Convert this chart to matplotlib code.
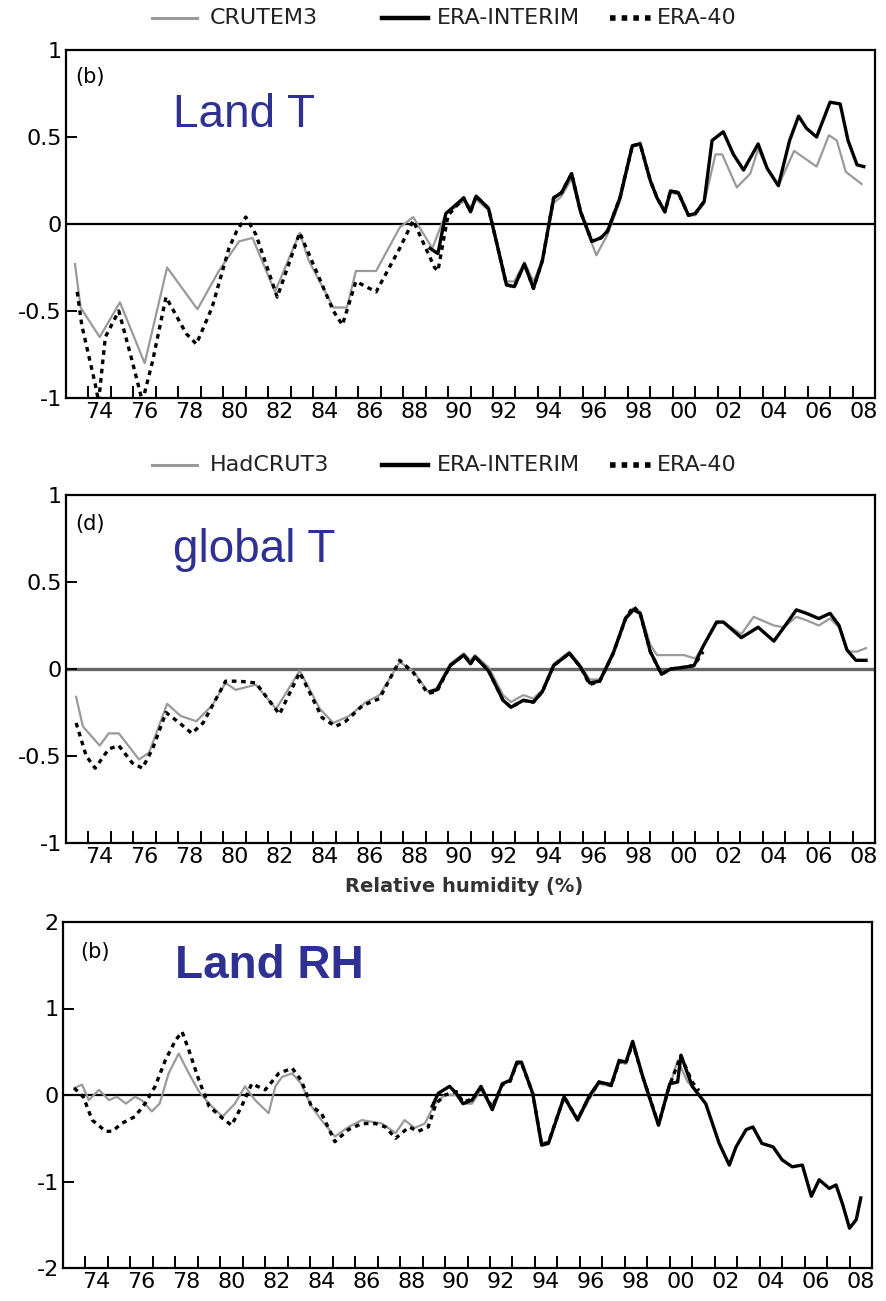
import matplotlib
matplotlib.use('Agg')
import matplotlib.pyplot as plt
from matplotlib.lines import Line2D

# ---- data (year, anomaly) ----
# panel (b) Land T
land_t_crutem_yr = [1973.4, 1973.65, 1974.5, 1975.4, 1976.5, 1977.5, 1978.85, 1979.8, 1980.7, 1981.3,
                    1982.3, 1983.4, 1983.8, 1984.9, 1985.5, 1985.9, 1986.8, 1987.85, 1988.45, 1989.3,
                    1989.9, 1990.7, 1991.0, 1991.25, 1991.8, 1992.15, 1992.6, 1992.95, 1993.4, 1993.8,
                    1994.2, 1994.7, 1995.05, 1995.5, 1995.9, 1996.6, 1997.1, 1997.65, 1998.2, 1998.55,
                    1999.0, 1999.3, 1999.65, 1999.9, 2000.25, 2000.7, 2001.0, 2001.4, 2001.9, 2002.2,
                    2002.85, 2003.45, 2003.8, 2004.2, 2004.7, 2005.4, 2006.4, 2006.95, 2007.3, 2007.7,
                    2008.4]
land_t_crutem = [-0.23, -0.48, -0.65, -0.45, -0.80, -0.25, -0.49, -0.27, -0.10, -0.08,
                 -0.39, -0.05, -0.21, -0.48, -0.48, -0.27, -0.27, -0.02, 0.04, -0.14,
                 0.06, 0.13, 0.10, 0.14, 0.08, -0.10, -0.33, -0.33, -0.22, -0.33,
                 -0.21, 0.12, 0.16, 0.26, 0.06, -0.18, -0.06, 0.13, 0.44, 0.47,
                 0.25, 0.15, 0.08, 0.18, 0.17, 0.05, 0.05, 0.12, 0.40, 0.40,
                 0.21, 0.29, 0.43, 0.32, 0.22, 0.42, 0.33, 0.51, 0.48, 0.30,
                 0.23]

land_t_era40_yr = [1973.5, 1973.7, 1974.3, 1974.45, 1974.75, 1975.35, 1975.95, 1976.4, 1976.85, 1977.45,
                   1978.35, 1978.8, 1979.5, 1980.25, 1980.6, 1981.0, 1981.45, 1982.4, 1983.4, 1984.9,
                   1985.3, 1985.9, 1986.8, 1987.85, 1988.45, 1989.4, 1989.55, 1990.0, 1990.7, 1991.0,
                   1991.25, 1991.8, 1992.15, 1992.6, 1992.95, 1993.4, 1993.8, 1994.2, 1994.7, 1995.05,
                   1995.5, 1995.9, 1996.4, 1996.8, 1997.1, 1997.65, 1998.2, 1998.55, 1999.0, 1999.3,
                   1999.65, 1999.9, 2000.25, 2000.7, 2001.0, 2001.4]
land_t_era40 = [-0.39, -0.58, -0.92, -1.02, -0.65, -0.50, -0.79, -1.02, -0.79, -0.42,
                -0.63, -0.69, -0.48, -0.14, -0.04, 0.04, -0.06, -0.42, -0.05, -0.50,
                -0.58, -0.33, -0.39, -0.14, 0.02, -0.25, -0.27, 0.05, 0.15, 0.07,
                0.16, 0.09, -0.10, -0.35, -0.36, -0.23, -0.37, -0.21, 0.15, 0.18,
                0.29, 0.07, -0.10, -0.08, -0.04, 0.15, 0.45, 0.46, 0.25, 0.15,
                0.07, 0.19, 0.18, 0.05, 0.06, 0.13]

land_t_erai_yr = [1989.2, 1989.55, 1989.9, 1990.7, 1991.0, 1991.25, 1991.8, 1992.15, 1992.6, 1992.95,
                  1993.4, 1993.8, 1994.2, 1994.7, 1995.05, 1995.5, 1995.9, 1996.4, 1996.8, 1997.1,
                  1997.65, 1998.2, 1998.55, 1999.0, 1999.3, 1999.65, 1999.9, 2000.25, 2000.7, 2001.0,
                  2001.4, 2001.75, 2002.25, 2002.7, 2003.15, 2003.8, 2004.2, 2004.7, 2005.2, 2005.6,
                  2005.95, 2006.4, 2007.0, 2007.45, 2007.8, 2008.2, 2008.5]
land_t_erai = [-0.14, -0.17, 0.06, 0.15, 0.07, 0.16, 0.09, -0.10, -0.35, -0.36,
               -0.23, -0.37, -0.21, 0.15, 0.18, 0.29, 0.07, -0.10, -0.08, -0.04,
               0.15, 0.45, 0.46, 0.25, 0.15, 0.07, 0.19, 0.18, 0.05, 0.06,
               0.13, 0.48, 0.53, 0.40, 0.31, 0.46, 0.32, 0.22, 0.48, 0.62,
               0.55, 0.50, 0.70, 0.69, 0.48, 0.34, 0.33]

# panel (d) global T
glob_t_hadcrut_yr = [1973.45, 1973.75, 1974.5, 1974.9, 1975.35, 1976.25, 1976.7, 1977.5, 1978.1, 1978.8,
                     1979.5, 1980.1, 1980.55, 1981.45, 1982.35, 1983.4, 1984.3, 1984.9, 1985.6, 1986.35,
                     1986.95, 1987.85, 1988.45, 1989.1, 1989.5, 1990.1, 1990.7, 1991.0, 1991.2, 1991.8,
                     1992.45, 1992.8, 1993.35, 1993.8, 1994.2, 1994.7, 1995.4, 1995.9, 1996.3, 1996.75,
                     1997.35, 1997.9, 1998.25, 1998.55, 1999.0, 1999.3, 1999.9, 2000.5, 2001.0, 2001.35,
                     2001.95, 2002.25, 2003.05, 2003.6, 2004.5, 2004.95, 2005.5, 2005.95, 2006.5, 2007.0,
                     2007.4, 2007.8, 2008.2, 2008.6]
glob_t_hadcrut = [-0.16, -0.33, -0.44, -0.37, -0.37, -0.52, -0.48, -0.20, -0.27, -0.30,
                  -0.21, -0.08, -0.12, -0.09, -0.23, -0.01, -0.23, -0.31, -0.27, -0.19,
                  -0.15, 0.04, -0.01, -0.13, -0.11, 0.03, 0.09, 0.05, 0.08, 0.01,
                  -0.15, -0.19, -0.15, -0.17, -0.12, 0.03, 0.10, 0.02, -0.06, -0.06,
                  0.10, 0.30, 0.35, 0.33, 0.14, 0.08, 0.08, 0.08, 0.06, 0.13,
                  0.26, 0.27, 0.20, 0.30, 0.25, 0.24, 0.30, 0.28, 0.25, 0.29,
                  0.24, 0.10, 0.10, 0.12]

glob_t_era40_yr = [1973.45, 1973.9, 1974.3, 1974.9, 1975.35, 1975.95, 1976.4, 1976.85, 1977.45, 1978.05,
                   1978.6, 1979.1, 1980.1, 1980.7, 1981.45, 1982.5, 1983.4, 1984.4, 1985.0, 1985.45,
                   1986.2, 1986.95, 1987.85, 1988.45, 1989.1, 1989.5, 1990.1, 1990.7, 1991.0, 1991.2,
                   1991.8, 1992.45, 1992.8, 1993.35, 1993.8, 1994.2, 1994.7, 1995.4, 1995.9, 1996.3,
                   1996.75, 1997.35, 1997.9, 1998.25, 1998.55, 1999.0, 1999.5, 1999.9, 2000.5, 2000.95,
                   2001.35]
glob_t_era40 = [-0.31, -0.50, -0.57, -0.46, -0.44, -0.54, -0.57, -0.46, -0.25, -0.31,
                -0.37, -0.31, -0.07, -0.07, -0.08, -0.26, -0.02, -0.28, -0.33, -0.30,
                -0.21, -0.17, 0.05, -0.02, -0.14, -0.13, 0.02, 0.08, 0.03, 0.07,
                -0.01, -0.18, -0.22, -0.18, -0.19, -0.13, 0.02, 0.09, 0.01, -0.09,
                -0.07, 0.09, 0.29, 0.36, 0.32, 0.10, -0.03, 0.00, 0.01, 0.02,
                0.10]

glob_t_erai_yr = [1989.2, 1989.5, 1990.1, 1990.7, 1991.0, 1991.2, 1991.8, 1992.45, 1992.8, 1993.35,
                  1993.8, 1994.2, 1994.7, 1995.4, 1995.9, 1996.3, 1996.75, 1997.35, 1997.9, 1998.25,
                  1998.55, 1999.0, 1999.5, 1999.9, 2000.5, 2000.95, 2001.35, 2001.95, 2002.25, 2003.05,
                  2003.8, 2004.5, 2004.95, 2005.5, 2005.95, 2006.5, 2007.0, 2007.4, 2007.75, 2008.15,
                  2008.6]
glob_t_erai = [-0.13, -0.12, 0.02, 0.08, 0.03, 0.07, -0.01, -0.18, -0.22, -0.18,
               -0.19, -0.13, 0.02, 0.09, 0.01, -0.08, -0.07, 0.09, 0.29, 0.34,
               0.32, 0.10, -0.03, 0.00, 0.01, 0.02, 0.13, 0.27, 0.27, 0.18,
               0.24, 0.16, 0.24, 0.34, 0.32, 0.29, 0.32, 0.25, 0.11, 0.05,
               0.05]

# panel (b) Land RH
land_rh_had_yr = [1973.5, 1973.85, 1974.15, 1974.6, 1975.05, 1975.4, 1975.8, 1976.2, 1976.5, 1976.95,
                  1977.3, 1977.7, 1978.15, 1978.6, 1979.05, 1979.5, 1980.1, 1980.65, 1981.1, 1981.55,
                  1982.15, 1982.45, 1982.75, 1983.2, 1983.6, 1984.05, 1984.5, 1985.1, 1985.7, 1986.3,
                  1986.75, 1987.2, 1987.8, 1988.2, 1988.65, 1989.1, 1989.55, 1990.0, 1990.5, 1990.8,
                  1991.2, 1991.6, 1992.1, 1992.55, 1992.9, 1993.2, 1993.4, 1993.9, 1994.3, 1994.6,
                  1995.3, 1995.9, 1996.4, 1996.85, 1997.4, 1997.75, 1998.05, 1998.35, 1998.8, 1999.5,
                  2000.0, 2000.35, 2000.8, 2001.2]
land_rh_had = [0.08, 0.12, -0.06, 0.06, -0.06, -0.02, -0.10, -0.02, -0.06, -0.19,
               -0.10, 0.25, 0.48, 0.25, 0.04, -0.10, -0.25, -0.10, 0.10, -0.06,
               -0.21, 0.10, 0.21, 0.25, 0.13, -0.13, -0.29, -0.48, -0.37, -0.29,
               -0.31, -0.33, -0.44, -0.29, -0.38, -0.33, -0.10, 0.00, 0.00, -0.10,
               -0.10, 0.06, -0.15, 0.13, 0.17, 0.36, 0.36, 0.02, -0.55, -0.55,
               -0.04, -0.30, -0.06, 0.13, 0.10, 0.38, 0.36, 0.58, 0.21, -0.33,
               0.10, 0.40, 0.15, 0.05]

land_rh_era40_yr = [1973.5, 1973.9, 1974.3, 1974.9, 1975.2, 1975.6, 1976.2, 1976.65, 1977.1, 1977.55,
                    1978.0, 1978.3, 1978.6, 1979.05, 1979.5, 1980.1, 1980.5, 1980.95, 1981.4, 1982.0,
                    1982.6, 1983.2, 1983.6, 1984.05, 1984.5, 1985.1, 1985.7, 1986.3, 1986.9, 1987.35,
                    1987.8, 1988.4, 1988.8, 1989.25, 1989.6, 1990.0, 1990.5, 1990.8, 1991.2, 1991.6,
                    1992.1, 1992.55, 1992.9, 1993.2, 1993.4, 1993.9, 1994.3, 1994.6, 1995.3, 1995.9,
                    1996.4, 1996.85, 1997.4, 1997.75, 1998.05, 1998.35, 1998.8, 1999.5, 2000.0, 2000.5,
                    2001.0, 2001.3]
land_rh_era40 = [0.08, -0.02, -0.29, -0.42, -0.42, -0.33, -0.25, -0.10, 0.10, 0.40,
                 0.63, 0.73, 0.52, 0.17, -0.13, -0.27, -0.35, -0.13, 0.13, 0.06,
                 0.25, 0.31, 0.17, -0.13, -0.21, -0.54, -0.40, -0.33, -0.33, -0.37,
                 -0.50, -0.37, -0.42, -0.37, -0.10, 0.00, 0.04, -0.08, -0.05, 0.08,
                 -0.14, 0.12, 0.16, 0.37, 0.37, 0.02, -0.57, -0.55, -0.02, -0.28,
                 -0.03, 0.15, 0.11, 0.39, 0.37, 0.60, 0.21, -0.34, 0.12, 0.45,
                 0.15, 0.05]

land_rh_erai_yr = [1989.43, 1989.7, 1990.2, 1990.5, 1990.8, 1991.2, 1991.6, 1992.1, 1992.55, 1992.9,
                   1993.2, 1993.4, 1993.9, 1994.3, 1994.6, 1995.3, 1995.9, 1996.4, 1996.85, 1997.4,
                   1997.75, 1998.05, 1998.35, 1998.8, 1999.5, 2000.0, 2000.35, 2000.5, 2001.0, 2001.6,
                   2002.2, 2002.65, 2002.95, 2003.4, 2003.7, 2004.1, 2004.6, 2005.0, 2005.45, 2005.9,
                   2006.3, 2006.65, 2007.1, 2007.4, 2007.7, 2008.0, 2008.3, 2008.5]
land_rh_erai = [-0.13, 0.02, 0.10, 0.02, -0.10, -0.06, 0.10, -0.17, 0.13, 0.17,
                0.38, 0.38, 0.02, -0.58, -0.56, -0.02, -0.29, -0.02, 0.15, 0.12,
                0.40, 0.38, 0.62, 0.21, -0.35, 0.13, 0.15, 0.46, 0.10, -0.10,
                -0.56, -0.81, -0.60, -0.40, -0.37, -0.56, -0.60, -0.75, -0.83, -0.81,
                -1.17, -0.98, -1.08, -1.04, -1.27, -1.54, -1.44, -1.19]

year_ticks = list(range(1974, 2009))
year_labels = ['74', '76', '78', '80', '82', '84', '86', '88', '90',
               '92', '94', '96', '98', '00', '02', '04', '06', '08']

TICK_FONT = ['Liberation Sans Narrow', 'DejaVu Sans']
TITLE_BLUE = '#2E3192'
GREY = '#9a9a9a'

W, H = 887, 1301
fig = plt.figure(figsize=(W / 100, H / 100), dpi=100)


def add_axes_px(left, top, right, bottom):
    return fig.add_axes([left / W, 1 - bottom / H, (right - left) / W, (bottom - top) / H])


def style_axes(ax, ylim, yticks, ylabels, zero_color='black', zero_lw=1.6):
    ax.set_xlim(1973, 2009)
    ax.set_ylim(*ylim)
    ax.set_xticks(year_ticks, [''] * len(year_ticks))
    ax.set_xticks([y + 0.5 for y in range(1974, 2009, 2)], year_labels, minor=True)
    ax.tick_params(axis='x', which='major', direction='in', length=9, width=1.4)
    ax.tick_params(axis='x', which='minor', length=0, pad=3, labelsize=16)
    ax.set_yticks(yticks, ylabels)
    ax.tick_params(axis='y', direction='in', length=8, width=1.4, pad=3, labelsize=16)
    for lab in ax.get_xticklabels(minor=True) + ax.get_yticklabels():
        lab.set_family(TICK_FONT)
    for sp in ax.spines.values():
        sp.set_linewidth(1.6)
    ax.axhline(0, color=zero_color, lw=zero_lw, zorder=1)


def plot_series(ax, grey, era40, erai):
    ax.plot(grey[0], grey[1], color=GREY, lw=1.6, zorder=2)
    ax.plot(era40[0], era40[1], color='black', lw=2.4, ls=(0, (1.4, 1.4)), zorder=3)
    ax.plot(erai[0], erai[1], color='black', lw=2.4, zorder=4)


def draw_legend(y_px, first_label):
    items = [(152, 197, 210, first_label, dict(color=GREY, lw=2.2)),
             (382, 428, 437, 'ERA-INTERIM', dict(color='black', lw=3.2)),
             (610, 652, 657, 'ERA-40', dict(color='black', lw=4, ls=(0, (1.0, 1.1))))]
    yf = 1 - y_px / H
    for x0, x1, xt, lab, kw in items:
        fig.add_artist(Line2D([x0 / W, x1 / W], [yf, yf], transform=fig.transFigure, **kw))
        fig.text(xt / W, yf, lab, ha='left', va='center', fontsize=16,
                 family=TICK_FONT, color='#222222')


# ---- panel 1: Land T ----
ax1 = add_axes_px(66, 50, 875, 398)
style_axes(ax1, (-1, 1), [-1, -0.5, 0, 0.5, 1], ['-1', '-0.5', '0', '0.5', '1'])
plot_series(ax1, (land_t_crutem_yr, land_t_crutem), (land_t_era40_yr, land_t_era40),
            (land_t_erai_yr, land_t_erai))
ax1.text(0.011, 0.905, '(b)', transform=ax1.transAxes, fontsize=15, family=TICK_FONT)
ax1.text(0.132, 0.779, 'Land T', transform=ax1.transAxes, fontsize=33,
         family='Liberation Sans', color=TITLE_BLUE)
draw_legend(18, 'CRUTEM3')

# ---- panel 2: global T ----
ax2 = add_axes_px(66, 495, 875, 843)
style_axes(ax2, (-1, 1), [-1, -0.5, 0, 0.5, 1], ['-1', '-0.5', '0', '0.5', '1'],
           zero_color='#666666', zero_lw=2.4)
plot_series(ax2, (glob_t_hadcrut_yr, glob_t_hadcrut), (glob_t_era40_yr, glob_t_era40),
            (glob_t_erai_yr, glob_t_erai))
ax2.text(0.011, 0.90, '(d)', transform=ax2.transAxes, fontsize=15, family=TICK_FONT)
ax2.text(0.132, 0.807, 'global T', transform=ax2.transAxes, fontsize=33,
         family='Liberation Sans', color=TITLE_BLUE)
draw_legend(465, 'HadCRUT3')

# ---- panel 3: Land RH ----
fig.text(464 / W, 1 - 886 / H, 'Relative humidity (%)', ha='center', va='center',
         fontsize=14, fontweight='bold', family=TICK_FONT, color='#333333')
ax3 = add_axes_px(63, 922, 872, 1268)
style_axes(ax3, (-2, 2), [-2, -1, 0, 1, 2], ['-2', '-1', '0', '1', '2'])
plot_series(ax3, (land_rh_had_yr, land_rh_had), (land_rh_era40_yr, land_rh_era40),
            (land_rh_erai_yr, land_rh_erai))
ax3.text(0.021, 0.896, '(b)', transform=ax3.transAxes, fontsize=15, family=TICK_FONT)
ax3.text(0.138, 0.838, 'Land RH', transform=ax3.transAxes, fontsize=33,
         family='Liberation Sans', fontweight='bold', color=TITLE_BLUE)

fig.savefig('out.png', dpi=100)
